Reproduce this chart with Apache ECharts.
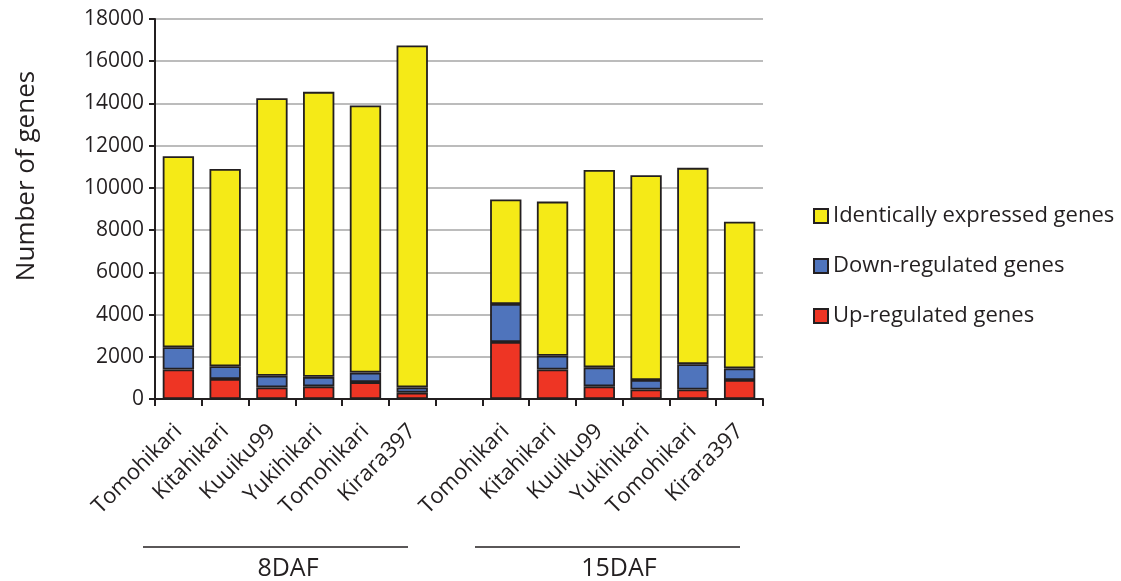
<!DOCTYPE html>
<html>
<head>
<meta charset="utf-8">
<script src="https://cdn.jsdelivr.net/npm/echarts@6/dist/echarts.min.js"></script>
<style>html,body{margin:0;padding:0;background:#fff}#c{width:1121px;height:581px}</style>
</head>
<body>
<div id="c"></div>
<script>
// Varieties per stage
var varieties = ['Tomohikari', 'Kitahikari', 'Kuuiku99', 'Yukihikari', 'Tomohikari', 'Kirara397'];
var groups = ['8DAF', '15DAF'];
var yTicks = [0, 2000, 4000, 6000, 8000, 10000, 12000, 14000, 16000, 18000];

// 8DAF segment values
var up8 = [1400, 950, 550, 600, 800, 300];
var down8 = [1050, 600, 550, 450, 450, 250];
var ident8 = [9050, 9350, 13150, 13500, 12650, 16200];

// 15DAF segment values
var up15 = [2700, 1400, 600, 450, 450, 900];
var down15 = [1800, 650, 900, 450, 1200, 550];
var ident15 = [4950, 7300, 9350, 9700, 9300, 6950];

var seriesNames = ['Up-regulated genes', 'Down-regulated genes', 'Identically expressed genes'];
var colors = ['#ee3524', '#4f74bc', '#f5ea17'];

var cats = varieties.concat(['']).concat(varieties);
function join(a, b) { return a.concat(['-']).concat(b); }
var seriesData = [join(up8, up15), join(down8, down15), join(ident8, ident15)];

var FONT = 'Open Sans';
var chart = echarts.init(document.getElementById('c'));
chart.setOption({
  animation: false,
  textStyle: { fontFamily: FONT, color: '#231f20' },
  grid: { left: 155, right: 358, top: 19, bottom: 182, containLabel: false },
  legend: {
    orient: 'vertical',
    left: 808,
    top: 200,
    itemWidth: 14,
    itemHeight: 14,
    itemGap: 28,
    data: [seriesNames[2], seriesNames[1], seriesNames[0]],
    textStyle: { fontFamily: FONT, fontSize: 22, color: '#231f20' },
    icon: 'rect'
  },
  xAxis: {
    type: 'category',
    data: cats,
    axisLine: { lineStyle: { color: '#231f20', width: 2 } },
    axisTick: { show: true, length: 7, lineStyle: { color: '#231f20', width: 2 } },
    axisLabel: { rotate: 45, interval: 0, fontSize: 22, color: '#231f20', fontFamily: FONT, margin: 29 }
  },
  yAxis: {
    type: 'value',
    min: yTicks[0], max: yTicks[yTicks.length - 1], interval: 2000,
    axisLine: { show: true, lineStyle: { color: '#231f20', width: 2 } },
    axisTick: { show: true, length: 6, lineStyle: { color: '#231f20', width: 2 } },
    axisLabel: { fontSize: 21, color: '#231f20', fontFamily: FONT, margin: 11,
      formatter: function (v) { return String(v); } },
    splitLine: { lineStyle: { color: '#a6a6a6', width: 1.5 } }
  },
  graphic: [
    { type: 'text', x: 27, y: 176, rotation: Math.PI / 2,
      style: { text: 'Number of genes', font: '26px "Open Sans"', fill: '#231f20', textAlign: 'center', textVerticalAlign: 'middle' } },
    { type: 'line', shape: { x1: 143, y1: 547, x2: 408, y2: 547 }, style: { stroke: '#231f20', lineWidth: 1.5 } },
    { type: 'line', shape: { x1: 475, y1: 547, x2: 740, y2: 547 }, style: { stroke: '#231f20', lineWidth: 1.5 } },
    { type: 'text', x: 288, y: 569,
      style: { text: groups[0], font: '25px "Open Sans"', fill: '#231f20', textAlign: 'center', textVerticalAlign: 'middle' } },
    { type: 'text', x: 619, y: 569,
      style: { text: groups[1], font: '25px "Open Sans"', fill: '#231f20', textAlign: 'center', textVerticalAlign: 'middle' } }
  ],
  series: seriesNames.map(function (n, i) {
    return {
      name: n,
      type: 'bar',
      stack: 'total',
      barCategoryGap: '33%',
      data: seriesData[i],
      itemStyle: { color: colors[i], borderColor: '#231f20', borderWidth: 1.8 }
    };
  })
});
</script>
</body>
</html>
